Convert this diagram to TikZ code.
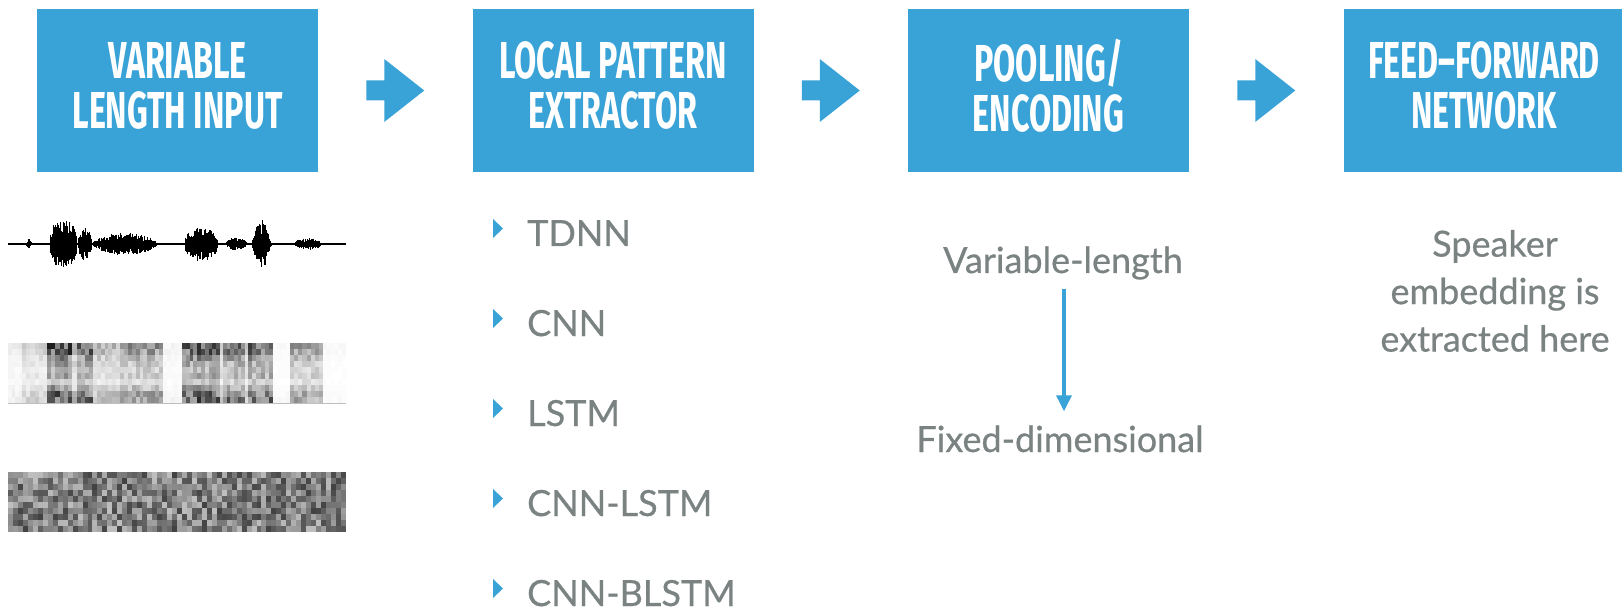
\documentclass[tikz,border=0pt]{standalone}
\usepackage{fontspec}
\setmainfont[FakeBold=0.6]{Lato}
\newfontfamily\headfont[FakeStretch=0.62]{Fira Sans}
\usetikzlibrary{calc,arrows.meta}
\definecolor{boxblue}{RGB}{57,162,215}
\definecolor{txtgray}{RGB}{122,130,130}
\begin{document}
\begin{tikzpicture}[x=1pt,y=-1pt,
  stage/.style={fill=boxblue, minimum width=281pt, minimum height=163pt, inner sep=0pt},
  head/.style={inner sep=0pt, text=white, align=center,
    font=\headfont\bfseries\fontsize{52}{50}\selectfont},
  item/.style={inner sep=0pt, anchor=base west, text=txtgray, text depth=0pt,
    font=\fontsize{36}{42}\selectfont},
  note/.style={inner sep=0pt, text=txtgray, align=center,
    font=\fontsize{36}{47.5}\selectfont},
  bullet/.style={fill=boxblue},
  flow/.style={fill=boxblue}]
\useasboundingbox (0,0) rectangle (1622,612);

% ---- stage boxes ----
\node[stage] (b1) at (177.5,90.5) {};
\node[stage] (b2) at (613,90.5) {};
\node[stage] (b3) at (1048.5,90.5) {};
\node[stage] (b4) at (1484,90.5) {};
\node[head] (t1) at ([yshift=5pt]b1.center) {VARIABLE\\LENGTH INPUT};
\node[head] (t2) at ([yshift=5pt]b2.center) {LOCAL PATTERN\\EXTRACTOR};
\node[head] (t3) at ([yshift=5pt]b3.center) {POOLING/\\ENCODING};
\node[head] (t4) at ([yshift=5pt]b4.center) {FEED\textendash FORWARD\\NETWORK};

% ---- block arrows between stages ----
\foreach \l/\r [count=\k] in {b1/b2,b2/b3,b3/b4}{
  \coordinate (m\k) at ($(\l.east)!0.5!(\r.west)$);
  \fill[flow] ([shift={(-29,-10)}]m\k) -- ([shift={(-11,-10)}]m\k)
     -- ([shift={(-11,-31.5)}]m\k) -- ([shift={(29,0)}]m\k)
     -- ([shift={(-11,31.5)}]m\k) -- ([shift={(-11,10)}]m\k)
     -- ([shift={(-29,10)}]m\k) -- cycle;
}

% ---- waveform ----
\pgfmathsetseed{4}
\draw[line width=1.4] (8,244) -- (346,244);
\foreach \a/\b/\h/\p in {26/32/5/1, 50/77/24/0.25, 78/92/17/0.5, 93/157/11/0.5,
                         185/218/17/0.35, 225/248/7/0.7, 250/273/25/1.6, 293/323/6/0.7}{
  \pgfmathtruncatemacro\n{(\b-\a)/0.6}
  \foreach \i in {0,...,\n}{
    \pgfmathsetmacro\t{(\i+0.5)/(\n+1)}
    \pgfmathsetmacro\e{\h*(sin(180*\t))^\p}
    \pgfmathsetmacro\up{\e*(0.4+0.6*rnd)}
    \pgfmathsetmacro\dn{\e*(0.4+0.6*rnd)}
    \pgfmathsetmacro\xx{\a+(\b-\a)*\t}
    \draw[line width=1.1] (\xx,244-\up) -- (\xx,244+\dn);
  }
}

% ---- spectrogram ----
\foreach \a/\b/\lv in {8/22/0.08, 22/47/0.2, 47/72/0.75, 72/77/0.3, 77/93/0.65,
                       93/120/0.3, 120/163/0.45, 163/182/0.05, 182/220/0.7,
                       220/223/0.25, 223/245/0.6, 245/248/0.2, 248/273/0.65,
                       273/290/0.03, 290/323/0.4, 323/346/0.03}{
  \pgfmathtruncatemacro\n{max(1,round((\b-\a)/4))}
  \pgfmathsetmacro\w{(\b-\a)/\n}
  \foreach \c in {1,...,\n}{
    \foreach \r in {0,...,9}{
      \pgfmathparse{{1.0,0.95,0.7,0.55,0.45,0.5,0.35,0.6,0.85,0.95}[\r]}
      \let\rf\pgfmathresult
      \pgfmathtruncatemacro\g{min(95,100*\lv*\rf*(0.5+0.8*rnd))}
      \fill[black!\g] (\a+\w*\c-\w,343+6*\r) rectangle ++(\w+0.3,6.3);
    }
  }
}
\draw[black!25, line width=0.8] (8,403) -- (346,403);

% ---- feature map ----
\foreach \c in {0,...,67}{
  \foreach \r in {0,...,9}{
    \pgfmathtruncatemacro\g{25+50*rnd}
    \fill[black!\g] (8+4.97*\c,472+6*\r) rectangle ++(5.2,6.2);
  }
}

% ---- extractor options ----
\foreach \txt [count=\k from 0] in {TDNN,CNN,LSTM,CNN-LSTM,CNN-BLSTM}{
  \node[item] (o\k) at (527,246+90*\k) {\txt};
  \fill[bullet] ([shift={(-34,-27)}]o\k.base west) -- ([shift={(-24,-17.5)}]o\k.base west)
     -- ([shift={(-34,-8)}]o\k.base west) -- cycle;
}

% ---- pooling note ----
\node[note, anchor=base] (vl) at (1063,273) {Variable-length};
\node[note, anchor=base] (fd) at (1060,452) {Fixed-dimensional};
\draw[boxblue, line width=3.5, -{Triangle[length=16pt,width=15pt]},
      shorten <=9pt, shorten >=14pt] (vl.south -| 1064,0) -- (fd.north -| 1064,0);

% ---- embedding note ----
\node[note] (se) at (1495,291) {Speaker\\embedding is\\extracted here};
\end{tikzpicture}
\end{document}
